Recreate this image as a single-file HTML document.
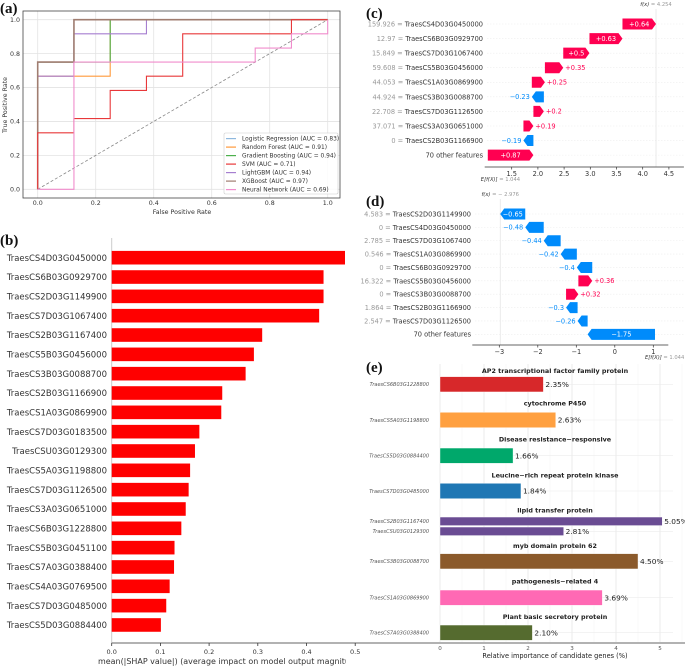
<!DOCTYPE html>
<html><head><meta charset="utf-8">
<style>
html,body{margin:0;padding:0;background:#fff;}
svg{display:block;font-family:"DejaVu Sans","Liberation Sans",sans-serif;}
.pl{font-family:"Liberation Serif",serif;font-weight:bold;font-size:15px;fill:#111;}
</style></head>
<body>
<svg id="fig" width="685" height="667" viewBox="0 0 685 667" xmlns="http://www.w3.org/2000/svg"><defs><clipPath id="leftclip"><rect x="0" y="0" width="346" height="667"/></clipPath></defs></svg>
<script>
// ---------- Panel (a) ROC data ----------
const rocModels = ["Logistic Regression","Random Forest","Gradient Boosting","SVM","LightGBM","XGBoost","Neural Network"];
const rocAUC = [0.83,0.91,0.94,0.71,0.94,0.97,0.69];
const rocFPR = [
  [0,0,0.125,0.125,1],
  [0,0,0.125,0.125,0.25,0.25,1],
  [0,0,0.125,0.125,0.25,0.25,1],
  [0,0,0.125,0.125,0.25,0.25,0.375,0.375,0.5,0.5,0.875,0.875,1],
  [0,0,0.125,0.125,0.375,0.375,1],
  [0,0,0.125,0.125,1],
  [0,0.125,0.125,0.75,0.75,0.875,0.875,1,1]
];
const rocTPR = [
  [0,0.75,0.75,1,1],
  [0,0.667,0.667,0.667,0.667,1,1],
  [0,0.75,0.75,0.75,0.75,1,1],
  [0,0.333,0.333,0.417,0.417,0.583,0.583,0.667,0.667,0.917,0.917,1,1],
  [0,0.667,0.667,0.917,0.917,1,1],
  [0,0.75,0.75,1,1],
  [0,0,0.75,0.75,0.833,0.833,0.917,0.917,1]
];
const rocTicks = [0,0.2,0.4,0.6,0.8,1.0];

// ---------- Panel (b) SHAP bar data ----------
const shapGenes = ["TraesCS4D03G0450000","TraesCS6B03G0929700","TraesCS2D03G1149900","TraesCS7D03G1067400","TraesCS2B03G1167400","TraesCS5B03G0456000","TraesCS3B03G0088700","TraesCS2B03G1166900","TraesCS1A03G0869900","TraesCS7D03G0183500","TraesCSU03G0129300","TraesCS5A03G1198800","TraesCS7D03G1126500","TraesCS3A03G0651000","TraesCS6B03G1228800","TraesCS5B03G0451100","TraesCS7A03G0388400","TraesCS4A03G0769500","TraesCS7D03G0485000","TraesCS5D03G0884400"];
const shapValues = [0.485,0.435,0.435,0.426,0.309,0.292,0.275,0.227,0.225,0.180,0.171,0.161,0.158,0.152,0.143,0.129,0.128,0.119,0.112,0.101];
const shapTicks = [0,0.1,0.2,0.3,0.4,0.5];

// ---------- Panel (c) waterfall ----------
const cFeat = ["TraesCS4D03G0450000","TraesCS6B03G0929700","TraesCS7D03G1067400","TraesCS5B03G0456000","TraesCS1A03G0869900","TraesCS3B03G0088700","TraesCS7D03G1126500","TraesCS3A03G0651000","TraesCS2B03G1166900","70 other features"];
const cFeatVals = ["159.926","12.97","15.849","59.608","44.053","44.924","22.708","37.071","0",""];
const cShap = [0.64,0.63,0.5,0.35,0.25,-0.23,0.2,0.19,-0.19,0.87];
const cBase = 1.044;
const cTicks = [1.5,2.0,2.5,3.0,3.5,4.0,4.5];

// ---------- Panel (d) waterfall ----------
const dFeat = ["TraesCS2D03G1149900","TraesCS4D03G0450000","TraesCS7D03G1067400","TraesCS1A03G0869900","TraesCS6B03G0929700","TraesCS5B03G0456000","TraesCS3B03G0088700","TraesCS2B03G1166900","TraesCS7D03G1126500","70 other features"];
const dFeatVals = ["4.583","0","2.785","0.546","0","16.322","0","1.864","2.547",""];
const dShap = [-0.65,-0.48,-0.44,-0.42,-0.4,0.36,0.32,-0.3,-0.26,-1.75];
const dBase = 1.044;
const dTicks = [-3,-2,-1,0,1];

// ---------- Panel (e) ----------
const eGroups = ["AP2 transcriptional factor family protein","cytochrome P450","Disease resistance\u2212responsive","Leucine\u2212rich repeat protein kinase","lipid transfer protein","myb domain protein 62","pathogenesis\u2212related 4","Plant basic secretory protein"];
const eGenes = [["TraesCS6B03G1228800"],["TraesCS5A03G1198800"],["TraesCS5D03G0884400"],["TraesCS7D03G0485000"],["TraesCS2B03G1167400","TraesCSU03G0129300"],["TraesCS3B03G0088700"],["TraesCS1A03G0869900"],["TraesCS7A03G0388400"]];
const eValues = [[2.35],[2.63],[1.66],[1.84],[5.05,2.81],[4.50],[3.69],[2.10]];
const eColors = ["#d7282a","#ffa040","#00a86b","#1f77b4","#6a4c93","#8b5a2b","#ff69b4","#556b2f"];
const eTicks = [0,1,2,3,4,5];

const NS="http://www.w3.org/2000/svg";
const fig=document.getElementById('fig');
function mk(tag,attrs,parent,text){const e=document.createElementNS(NS,tag);for(const k in attrs)e.setAttribute(k,attrs[k]);if(text!==undefined)e.textContent=text;(parent||fig).appendChild(e);return e;}

// ===== Panel A =====
(function(){
  const g=mk('g',{});
  
  
  const L=23,R=340,T=11,B=198;
  const sx=v=>37.7+v*290, sy=v=>189.3-v*169.6;
  rocTicks.forEach(v=>{
    const gl=mk('line',{x1:sx(v),x2:sx(v),y1:T,y2:B,stroke:'#e3e3e3','stroke-width':0.8},g);
    
    
    const gh=mk('line',{x1:L,x2:R,y1:sy(v),y2:sy(v),stroke:'#e3e3e3','stroke-width':0.8},g);
    
    
    const tx=mk('text',{x:sx(v),y:205,'font-size':6.3,'text-anchor':'middle',fill:'#333'},g,v.toFixed(1));
    
    
    const ty=mk('text',{x:20,y:sy(v)+2.2,'font-size':6.3,'text-anchor':'end',fill:'#333'},g,v.toFixed(1));
    
    
  });
  const fr=mk('rect',{x:L,y:T,width:R-L,height:B-T,fill:'none',stroke:'#444','stroke-width':0.8},g);
  
  
  const dg=mk('line',{x1:sx(0),y1:sy(0),x2:sx(1),y2:sy(1),stroke:'#888','stroke-width':0.8,'stroke-dasharray':'3,2'},g);
  
  
  const cols=['#8fb8de','#ff9a3c','#4cb04c','#e8383a','#a67fd0','#a07d70','#f08ccc'];
  const order=[0,1,2,4,5,3,6];
  order.forEach(i=>{
    const pts=rocFPR[i].map((f,j)=>sx(f)+','+sy(rocTPR[i][j])).join(' ');
    const pl=mk('polyline',{points:pts,fill:'none',stroke:cols[i],'stroke-width':i==5?1.6:1.1},g);
    
    
  });
  const lg=mk('g',{},g);
  
  
  mk('rect',{x:224,y:133,width:114,height:61,fill:'#fff','fill-opacity':0.85,stroke:'#ccc','stroke-width':0.6,rx:1.5},lg);
  rocModels.forEach((m,i)=>{
    const y=138.6+i*8.5;
    const ln=mk('line',{x1:226,x2:236,y1:y,y2:y,stroke:cols[i],'stroke-width':1.2},lg);
    
    
    const lt=mk('text',{x:242,y:y+2,'font-size':5.9,fill:'#333'},lg,m+' (AUC = '+rocAUC[i].toFixed(2)+')');
    
    
  });
  const xt=mk('text',{x:182,y:214,'font-size':6.3,'text-anchor':'middle',fill:'#333'},g,'False Positive Rate');
  
  
  const yt=mk('text',{x:0,y:0,'font-size':6.3,'text-anchor':'middle',fill:'#333',transform:'translate(7,105) rotate(-90)'},g,'True Positive Rate');
  
  
})();

// ===== Panel B =====
(function(){
  const g=mk('g',{});
  
  
  const x0=111.7,k=487;
  const sx=v=>x0+v*k;
  const sp=mk('line',{x1:x0,x2:x0,y1:238,y2:643,stroke:'#ccc','stroke-width':1},g);
  
  
  const ax=mk('line',{x1:x0,x2:685,y1:643,y2:643,stroke:'#333','stroke-width':0.8},g);
  
  
  shapTicks.forEach(v=>{
    const tk=mk('line',{x1:sx(v),x2:sx(v),y1:643,y2:646,stroke:'#333','stroke-width':0.8},g);
    
    
    const tl=mk('text',{x:sx(v),y:654,'font-size':6.5,'text-anchor':'middle',fill:'#333'},g,v.toFixed(1));
    
    
  });
  shapGenes.forEach((gname,i)=>{
    const yc=257.7+i*19.33;
    const r=mk('rect',{x:x0,y:yc-6.8,width:Math.max(0,shapValues[i]*k),height:13.6,fill:'#ff0000'},g);
    
    
    const tl=mk('text',{x:107,y:yc+3.2,'font-size':8.6,'text-anchor':'end',fill:'#333',textLength:gname.length*5.27,lengthAdjust:'spacingAndGlyphs'},g,gname);
    
    
  });
  const tt=mk('text',{x:98,y:664,'font-size':8.2,fill:'#333',textLength:265,lengthAdjust:'spacingAndGlyphs','clip-path':'url(#leftclip)'},g,'mean(|SHAP value|) (average impact on model output magnitude)');
  
  
})();

// white background for right column (covers overflow of panel b)
const bgR=mk('rect',{x:345,y:0,width:340,height:641,fill:'#fff'});



// ===== Waterfall builder =====
function waterfall(name,feat,vals,shap,base,ticks,sx,y0,dy,labelX,axisY,fxLabelY,baseLabelPos){
  const g=mk('g',{});
  
  
  const n=feat.length;
  const starts=new Array(n),ends=new Array(n);
  let cur=base;
  for(let i=n-1;i>=0;i--){starts[i]=cur;cur+=shap[i];ends[i]=cur;}
  const fx=cur;
  for(let i=0;i<n;i++){
    const y=y0+i*dy;
    const gl=mk('line',{x1:labelX+4,x2:685,y1:y,y2:y,stroke:'#eee','stroke-width':0.6,'stroke-dasharray':'1.5,1.5'},g);
    
    
  }
  const fl=mk('line',{x1:sx(fx),x2:sx(fx),y1:fxLabelY+3,y2:axisY,stroke:'#ddd','stroke-width':0.6},g);
  
  
  for(let i=0;i<n;i++){
    const y=y0+i*dy,h=11;
    const a=sx(Math.min(starts[i],ends[i])),b=sx(Math.max(starts[i],ends[i]));
    const pos=shap[i]>=0;
    const head=Math.min(4,(b-a));
    let pts;
    if(pos) pts=[[a,y-h/2],[b-head,y-h/2],[b,y],[b-head,y+h/2],[a,y+h/2]];
    else pts=[[b,y-h/2],[a+head,y-h/2],[a,y],[a+head,y+h/2],[b,y+h/2]];
    const col=pos?'#ff0051':'#008bfb';
    const p=mk('polygon',{points:pts.map(q=>q.join(',')).join(' '),fill:col},g);
    
    
    const lbl=(pos?'+':'\u2212')+Math.abs(shap[i]);
    let tx;
    if(b-a>24){
      tx=mk('text',{x:(a+b)/2,y:y+2.3,'font-size':6.6,'text-anchor':'middle',fill:'#fff'},g,lbl);
    } else if(pos){
      tx=mk('text',{x:b+2,y:y+2.3,'font-size':6.6,fill:col},g,lbl);
    } else {
      tx=mk('text',{x:a-2,y:y+2.3,'font-size':6.6,'text-anchor':'end',fill:col},g,lbl);
    }
    
    
    const ft=mk('text',{x:labelX,y:y+2.4,'font-size':6.6,'text-anchor':'end',fill:'#333'},g);
    
    
    if(vals[i]!==''){mk('tspan',{fill:'#999'},ft,vals[i]+' = ');}
    mk('tspan',{},ft,feat[i]);
  }
  const axL=sx(ticks[0])-27,axR=Math.min(685,sx(ticks[ticks.length-1])+15);
  const ax=mk('line',{x1:axL,x2:axR,y1:axisY,y2:axisY,stroke:'#333','stroke-width':0.7},g);
  
  
  ticks.forEach(v=>{
    const tk=mk('line',{x1:sx(v),x2:sx(v),y1:axisY,y2:axisY+2.5,stroke:'#333','stroke-width':0.7},g);
    
    
    const tl=mk('text',{x:sx(v),y:axisY+9,'font-size':6.6,'text-anchor':'middle',fill:'#333'},g,v<0?'\u2212'+Math.abs(v):(Number.isInteger(v)&&ticks.some(x=>!Number.isInteger(x))?v.toFixed(1):String(v)));
    
    
  });
  const fxt=mk('text',{x:sx(fx),y:fxLabelY,'font-size':5.2,'text-anchor':'middle',fill:'#999'},g);
  
  
  mk('tspan',{fill:'#333','font-style':'italic'},fxt,'f(x)');
  mk('tspan',{},fxt,' = '+(fx<0?'\u2212 ':'')+Math.abs(fx).toFixed(3));
  const bt=mk('text',{x:sx(base)+baseLabelPos[0],y:baseLabelPos[1],'font-size':5.2,'text-anchor':'start',fill:'#999'},g);
  
  
  mk('tspan',{fill:'#333','font-style':'italic'},bt,'E[f(X)]');
  mk('tspan',{},bt,' = '+base.toFixed(3));
}
waterfall('waterfall-c',cFeat,cFeatVals,cShap,cBase,cTicks,v=>511.7+(v-1.5)*52.4,24,14.57,483,167,6,[-7,181]);
waterfall('waterfall-d',dFeat,dFeatVals,dShap,dBase,dTicks,v=>499.3+(v+3)*38.5,214,13.37,471,345,196,[-10,359]);

// ===== Panel E =====
(function(){
  const g=mk('g',{});
  
  
  const x0=440,k=44,sx=v=>x0+v*k;
  const top=364,bot=642;
  for(let v=0;v<=5.5;v+=0.5){
    const gl=mk('line',{x1:sx(v),x2:sx(v),y1:top,y2:bot,stroke:Number.isInteger(v)?'#e6e6e6':'#f2f2f2','stroke-width':Number.isInteger(v)?0.8:0.5},g);
    
    
  }
  const centers=[[384.3],[420],[455.7],[491],[521.3,531.3],[561.3],[597.7],[632.7]];
  const titleY=[370.7,403.3,439.3,475,510.3,545.7,581.3,616.7];
  eGroups.forEach((gr,i)=>{
    const tt=mk('text',{x:555,y:titleY[i]+2.3,'font-size':6.4,'font-weight':'bold','text-anchor':'middle',fill:'#222'},g,gr);
    
    
    const h=eGenes[i].length>1?8.5:15.3;
    eGenes[i].forEach((gn,j)=>{
      const yc=centers[i][j];
      const hl=mk('line',{x1:x0,x2:673,y1:yc,y2:yc,stroke:'#ececec','stroke-width':0.6},g);
      
      
      const r=mk('rect',{x:x0,y:yc-h/2,width:eValues[i][j]*k,height:h,fill:eColors[i],stroke:'#fff','stroke-width':0.4},g);
      
      
      const vl=mk('text',{x:x0+eValues[i][j]*k+2,y:yc+2.6,'font-size':7.4,fill:'#222'},g,eValues[i][j].toFixed(2)+'%');
      
      
      const gl=mk('text',{x:429,y:yc+1.8,'font-size':5,'font-style':'italic','text-anchor':'end',fill:'#555'},g,gn);
      
      
    });
  });
  eTicks.forEach(v=>{
    const tl=mk('text',{x:sx(v),y:650,'font-size':5.6,'text-anchor':'middle',fill:'#555'},g,String(v));
    
    
  });
  const xt=mk('text',{x:555,y:658,'font-size':6.6,'text-anchor':'middle',fill:'#222'},g,'Relative importance of candidate genes (%)');
  
  
})();

// panel labels
let t;
t=mk('text',{x:0,y:13,class:'pl'},fig,'(a)');


t=mk('text',{x:0,y:245,class:'pl'},fig,'(b)');


t=mk('text',{x:366,y:18,class:'pl'},fig,'(c)');


t=mk('text',{x:366,y:206,class:'pl'},fig,'(d)');


t=mk('text',{x:366,y:372,class:'pl'},fig,'(e)');


</script>
</body></html>
